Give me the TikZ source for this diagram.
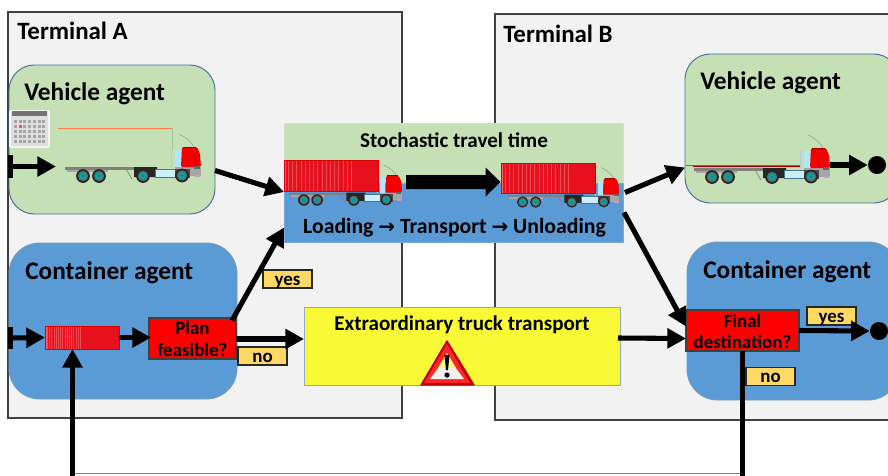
\documentclass[tikz,border=0pt]{standalone}
\usepackage{fontspec}
\setmainfont{Carlito}
\newfontfamily\symfont{DejaVu Sans}
\usetikzlibrary{arrows.meta,calc,shapes.geometric}
\definecolor{termfill}{HTML}{F2F2F2}
\definecolor{termedge}{HTML}{404040}
\definecolor{vgreen}{HTML}{C5E0B4}
\definecolor{cblue}{HTML}{5B9BD5}
\definecolor{agedge}{HTML}{41719C}
\definecolor{lblfill}{HTML}{FFD966}
\definecolor{yell}{HTML}{F9F935}
\definecolor{yedge}{HTML}{8FAABC}
\definecolor{contred}{HTML}{E8101C}
\tikzset{
  x=0.75pt,y=-0.75pt,
  sized/.style 2 args={minimum width=#1*0.75pt,minimum height=#2*0.75pt,inner sep=0pt,outer sep=0pt},
  terminal/.style={draw=termedge,line width=1pt,fill=termfill},
  vagent/.style={draw=agedge,line width=0.7pt,fill=vgreen,rounded corners=19pt},
  cagent/.style={draw=agedge!70,line width=0.7pt,fill=cblue,rounded corners=23pt},
  decision/.style={draw=black!75,line width=0.8pt,fill=red},
  dectext/.style={font=\bfseries\fontsize{14.2}{16}\selectfont,align=center,inner sep=0pt,text=black},
  answer/.style={draw=black!85,line width=0.8pt,fill=lblfill,font=\bfseries\fontsize{14.2}{14}\selectfont,text height=9pt,text depth=0pt},
  ttl/.style={font=\bfseries\fontsize{18.7}{20}\selectfont,inner sep=0pt,anchor=west},
  agttl/.style={font=\bfseries\fontsize{19}{20}\selectfont,inner sep=0pt,anchor=west},
  midttl/.style={font=\bfseries\fontsize{15.8}{18}\selectfont,inner sep=0pt},
  flow/.style={line width=3.8pt,-{Triangle[length=14pt,width=14.5pt]}},
  enddot/.style={circle,fill=black,minimum size=13.5pt,inner sep=0pt},
}
% truck: origin = rear-left lower corner of the flatbed, in reference pixels
\newcommand{\wheelat}[2]{%
  \fill[black!85] (#1,#2) circle (6.9);
  \fill[black!60] (#1,#2) circle (5.2);
  \fill[teal!70!cyan] (#1,#2) circle (3.6);
  \fill[black!65] (#1,#2) circle (1.2);
}
\newcommand{\lorry}[3]{%
  \begin{scope}[shift={(#1,#2)},x=#3*0.75pt,y=-#3*0.75pt]
    \draw[gray!80,line width=0.4pt] (115,-48) .. controls (123,-44) and (128,-40) .. (131,-33);
    \fill[cyan!25!gray!50] (107,-33) rectangle (108,-14);
    \fill[cyan!30] (111,-32) rectangle (117,-14);
    \fill[black!50] (1,-15) rectangle (71,-12);
    \fill[gray!70] (3,-12) rectangle (44,-10);
    \draw[gray,line width=0.5pt] (62,-13) -- (68,-3);
    \fill[black!85] (70,-15) -- (93,-15) -- (93,-12) -- (109,-12) -- (109,-5) -- (70,-5) -- cycle;
    \fill[cyan!20!white] (91,-13) rectangle (111,-5);
    \draw[cyan!50!black,line width=0.3pt] (91,-13) rectangle (111,-5);
    \fill[gray!70] (111,-15) rectangle (137,-6);
    \fill[black!70] (111,-13) rectangle (126,-4);
    \fill[red!95!black,rounded corners=1pt] (118,-35) -- (133,-35) -- (136,-28) -- (137,-15) -- (117,-15) -- cycle;
    \fill[red!60!black] (119,-35.5) rectangle (132,-34.5);
    \fill[black!60] (130,-16) rectangle (136,-13);
    \fill[violet!40] (131,-7) rectangle (136,-5);
    \wheelat{19}{-6}\wheelat{35}{-6}\wheelat{79}{-6}\wheelat{118}{-6.5}
  \end{scope}%
}
\newcommand{\boxstripes}[6]{% x1 y1 x2 y2 count step
  \fill[contred] (#1,#2) rectangle (#3,#4);
  \foreach \k in {1,...,#5}{%
    \pgfmathsetmacro{\xk}{#1+\k*#6}
    \draw[contred!75!white,line width=0.35pt] (\xk,#2) -- (\xk,#4);
  }
  \fill[red!60!white] (#1,#2) rectangle ({#1+1.5},#4);
  \draw[red!85!black,line width=0.5pt] (#1,#2) rectangle (#3,#4);
}
\begin{document}
\begin{tikzpicture}
\useasboundingbox (0,0) rectangle (888,475);
\clip (0,0) rectangle (888,475);
\fill[white] (0,0) rectangle (888,475);

% terminals
\node[terminal,sized={394}{406}] (ta) at (205,215) {};
\node[terminal,sized={400}{406}] (tb) at (695,217) {};
\node[ttl] (talabel) at (17,31) {Terminal A};
\node[ttl] (tblabel) at (503,34) {Terminal B};

% agents
\node[vagent,sized={206}{149}] (va) at (112,139.5) {};
\node[cagent,sized={228}{156}] (ca) at (123,321) {};
\node[vagent,sized={214}{149}] (vb) at (792,128.5) {};
\node[cagent,sized={212}{158}] (cb) at (793,321) {};
\node[agttl] (valabel) at (24,94) {Vehicle agent};
\node[agttl] (calabel) at (25,273) {Container agent};
\node[agttl] (vblabel) at (700,83) {Vehicle agent};
\node[agttl] (cblabel) at (703,272) {Container agent};

% calendar
\begin{scope}
  \fill[white!92!gray,rounded corners=1.5pt] (9,110) rectangle (50,148);
  \fill[gray!25] (11,112) rectangle (48,146);
  \fill[black!55] (12,111) rectangle (47,116);
  \foreach \r in {0,...,4}{\foreach \c in {0,...,6}{
    \fill[black!35] ({14+\c*4.7},{120+\r*5}) rectangle ({17+\c*4.7},{123+\r*5});}}
  \fill[red!70] (19,125) rectangle (22,128);
\end{scope}
\draw[red!45!orange!70,line width=0.6pt] (58,128) -- (172,128);
\draw[green!30!gray!60,line width=0.6pt] (172,128) -- (172,150);

% central block
\node[sized={339}{60},fill=vgreen,draw=vgreen!85!white,line width=0.4pt] (stochg) at (453.5,153) {};
\node[sized={339}{59},fill=cblue,draw=cblue!85!white,line width=0.4pt] (stochb) at (453.5,212.5) {};
\node[midttl] (stochlabel) at (454,140.5) {Stochastic travel time};
\node[midttl,font=\bfseries\fontsize{16.3}{18}\selectfont] (phases) at (454.5,227.5) {Loading {\symfont\fontsize{15}{15}\selectfont\bfseries →} Transport {\symfont\fontsize{15}{15}\selectfont\bfseries →} Unloading};

% extraordinary
\node[sized={316}{78},fill=yell,draw=yedge,line width=0.7pt] (extra) at (462,346) {};
\node[midttl] (extralabel) at (462,324.5) {Extraordinary truck transport};
% warning sign
\fill[red!75!black] (447,341) -- (474,385) -- (421,385) -- cycle;
\draw[red!75!black,line width=1pt,line join=round] (447,341) -- (474,385) -- (421,385) -- cycle;
\fill[red!85!white] (447,344) -- (470,383) -- (424,383) -- cycle;
\fill[gray!12] (447,356) -- (464,379) -- (430,379) -- cycle;
\fill[yell!60!white] (447,353) -- (456,368) -- (438,368) -- cycle;
\fill[black] (444.5,355) -- (449.5,355) -- (448,370) -- (446,370) -- cycle;
\fill[black] (447,375) circle (2.6);

% trucks
\lorry{64}{182}{1}
\lorry{693}{183}{1}
\draw[red!70!black,line width=1pt] (693,166.5) -- (800,166.5);
\draw[red!60!orange,line width=0.4pt] (686,165.5) -- (800,165.5);
\lorry{288}{205}{0.833}
\boxstripes{284}{160}{378}{191}{16}{4.2}
\lorry{507}{207}{0.82}
\boxstripes{501}{163}{595}{193}{16}{4.2}

% big arrow inside the block
\coordinate (bigfrom) at (406,182);
\coordinate (bigto) at (500.5,182);
\fill[black] ($(bigfrom)+(0,-7)$) -- ($(bigto)+(-15,-7)$) -- ($(bigto)+(-15,-14.5)$) -- (bigto) -- ($(bigto)+(-15,14.5)$) -- ($(bigto)+(-15,7)$) -- ($(bigfrom)+(0,7)$) -- cycle;

% process nodes
\node[sized={74}{23}] (cont) at (82,337.5) {};
\boxstripes{45}{326}{119}{349}{16}{2.2}
\node[decision,sized={87}{41}] (plan) at (192.5,338.5) {};
\node[dectext] (plantext) at (192.5,339) {Plan\\feasible?};
\node[decision,sized={113}{41}] (final) at (742.5,330.5) {};
\node[dectext] (finaltext) at (742.5,331.5) {Final\\destination?};
\node[answer,sized={49}{18}] (yesA) at (287.5,279) {yes};
\node[answer,sized={49}{18}] (noA) at (262.5,356) {no};
\node[answer,sized={49}{18}] (yesB) at (831.5,316) {yes};
\node[answer,sized={49}{18}] (noB) at (770.5,376.5) {no};

% starts and ends
\node[sized={5}{23},fill=black] (startv) at (10.5,166.5) {};
\node[sized={5}{22},fill=black] (startc) at (10.5,338) {};
\node[enddot] (endv) at (877,165) {};
\node[enddot] (endc) at (879,331) {};

% connectors
\coordinate (vtail) at (56,166.5);
\coordinate (vbtail) at (830,165);
\coordinate (feedr) at (742.5,482);
\coordinate (feedl) at (72.5,482);
\draw[flow] (startv.center) -- (vtail);
\draw[flow] (startc.center) -- (cont.west);
\draw[flow] (cont.east) -- ($(plan.west)+(2,-1)$);
\draw[flow] ($(plan.east)+(-4,-18)$) -- ($(stochb.west)+(0,15)$);
\draw[flow] ($(plan.east)+(0,0.5)$) -- ($(extra.west)+(0,-7)$);
\draw[flow] ($(va.east)+(0,31)$) -- ($(stochg.west)+(0,39)$);
\draw[flow] ($(stochb.east)+(2,-20)$) -- ($(vb.west)+(0,39)$);
\draw[flow] ($(stochb.east)+(1,0)$) -- ($(final.west)+(0,-4)$);
\draw[flow] ($(extra.east)+(-2,-8)$) -- ($(final.west)+(0,8)$);
\draw[flow] (final.east) -- (endc.west);
\draw[flow] (vbtail) -- (endv.west);
\draw[gray,line width=0.9pt] (72.5,473.7) -- (742.5,473.7);
\draw[flow] (final.south) -- (feedr) -- (feedl) -- (feedl |- cont.south);
\end{tikzpicture}
\end{document}
